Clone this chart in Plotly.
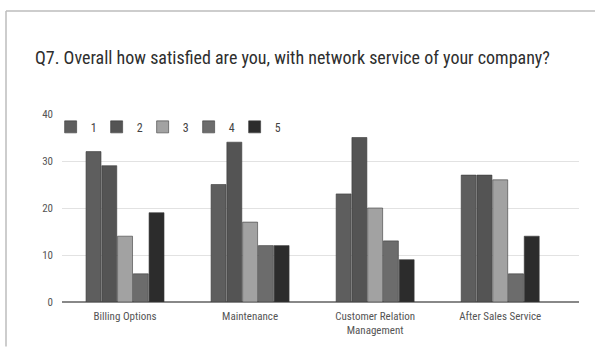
import plotly.graph_objects as go

categories = ["Billing Options", "Maintenance", "Customer Relation<br>Management", "After Sales Service"]
series_names = ["1", "2", "3", "4", "5"]
s1 = [32, 25, 23, 27]
s2 = [29, 34, 35, 27]
s3 = [14, 17, 20, 26]
s4 = [6, 12, 13, 6]
s5 = [19, 12, 9, 14]
series_values = [s1, s2, s3, s4, s5]
colors = ["#5e5e5e", "#545454", "#a2a2a2", "#6c6c6c", "#2c2c2c"]
y_ticks = [0, 10, 20, 30, 40]

FONT = "Liberation Sans Narrow, Roboto Condensed, Arial Narrow, Roboto, sans-serif"

fig = go.Figure()
for name, vals, col in zip(series_names, series_values, colors):
    fig.add_trace(go.Bar(
        x=list(range(len(categories))), y=vals, name=name,
        marker=dict(color=col, line=dict(color="#3a3a3a", width=0.6)),
    ))

W, H = 595, 349
L, R, T, B = 62, 16, 114, 45
pw = W - L - R
ph = H - T - B

fig.update_layout(
    width=W, height=H,
    margin=dict(l=L, r=R, t=T, b=B),
    paper_bgcolor="white", plot_bgcolor="white",
    barmode="group", bargap=0.37, bargroupgap=0.05,
    font=dict(family=FONT, color="#555555", size=11),
    title=dict(
        text="Q7. Overall how satisfied are you, with network service of your company?",
        x=35 / W, xanchor="left", y=1 - 58 / H, yanchor="middle",
        font=dict(family=FONT, size=18, color="#2e2e2e"),
    ),
    legend=dict(
        orientation="h", x=-0.022, xanchor="left", y=(H - B - 127) / ph, yanchor="middle",
        font=dict(family=FONT, size=12, color="#444444"), bgcolor="rgba(0,0,0,0)",
        traceorder="normal", itemwidth=30, entrywidth=1, entrywidthmode="pixels",
    ),
    xaxis=dict(
        tickmode="array", tickvals=list(range(len(categories))), ticktext=categories,
        range=[-0.504, 3.63], showgrid=False, zeroline=False,
        showline=False, ticks="", ticklabelstandoff=6, tickfont=dict(size=11, color="#555555"),
    ),
    yaxis=dict(
        range=[0, 40], tickvals=y_ticks, showgrid=True, gridcolor="#e2e2e2", gridwidth=1,
        zeroline=True, zerolinecolor="#888888", zerolinewidth=2,
        showline=False, ticks="", ticklabelstandoff=8, tickfont=dict(size=11, color="#555555"),
    ),
    showlegend=True,
    shapes=[
        dict(type="line", xref="paper", yref="paper",
             x0=(6 - L) / pw, x1=(W - L) / pw, y0=(H - B - 10) / ph, y1=(H - B - 10) / ph,
             line=dict(color="#bdbdbd", width=1.5)),
        dict(type="line", xref="paper", yref="paper",
             x0=(6 - L) / pw, x1=(6 - L) / pw, y0=(H - B - 10) / ph, y1=(H - B - H) / ph,
             line=dict(color="#bdbdbd", width=1.5)),
    ],
)

fig.write_html("out.html")
